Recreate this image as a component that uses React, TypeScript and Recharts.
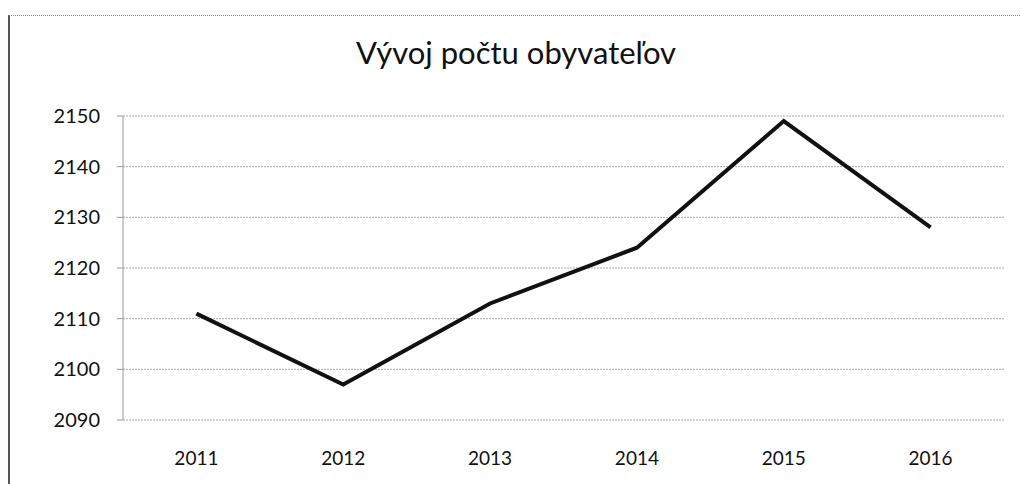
import React from 'react';
import { CartesianGrid, Line, LineChart, XAxis, YAxis } from 'recharts';

const years = ['2011', '2012', '2013', '2014', '2015', '2016'];
const population = [2111, 2097, 2113, 2124, 2149, 2128];
const yTicks = [2090, 2100, 2110, 2120, 2130, 2140, 2150];
// category boundaries, where Excel puts the x tick marks
const boundaryTicks = [0, 1, 2, 3, 4, 5, 6];

const chartData = years.map((year, index) => ({ year, value: population[index] }));

const fontFamily = 'Lato, "Open Sans", sans-serif';

export default function App() {
  return (
    <div
      style={{
        position: 'absolute',
        left: 0,
        top: 0,
        width: 1021,
        height: 484,
        background: '#ffffff',
        overflow: 'hidden',
        fontFamily,
      }}
    >
      <div
        style={{
          position: 'absolute',
          left: 8,
          top: 15,
          width: 1040,
          height: 500,
          borderTop: '1px dotted #888',
          borderLeft: '2px solid #555',
        }}
      />
      <div
        style={{
          position: 'absolute',
          left: 0,
          top: 33,
          width: 1032,
          textAlign: 'center',
          fontSize: 31,
          color: '#111',
        }}
      >
        Vývoj počtu obyvateľov
      </div>
      <div style={{ position: 'absolute', left: 0, top: 0 }}>
        <LineChart
          data={chartData}
          height={484}
          margin={{ left: 63, right: 17, top: 116, bottom: 24 }}
          width={1021}
        >
          <CartesianGrid stroke="#aaa" strokeDasharray="2 1" vertical={false} />
          <XAxis
            axisLine={{ stroke: '#999' }}
            domain={[0, 6]}
            height={0}
            tick={false}
            tickLine={{ stroke: '#999' }}
            tickSize={6}
            ticks={boundaryTicks}
            type="number"
            xAxisId="edges"
          />
          <XAxis
            axisLine={false}
            dataKey="year"
            height={40}
            scale="band"
            tick={{ fill: '#111', fontSize: 19, fontFamily }}
            tickLine={false}
            tickMargin={32}
            tickSize={0}
          />
          <YAxis
            axisLine={{ stroke: '#999' }}
            domain={[2090, 2150]}
            tick={{ fill: '#111', fontSize: 20, fontFamily }}
            tickLine={{ stroke: '#999' }}
            tickMargin={17}
            tickSize={6}
            ticks={yTicks}
            width={60}
          />
          <Line
            dataKey="value"
            dot={false}
            isAnimationActive={false}
            stroke="#111"
            strokeWidth={4}
            type="linear"
          />
        </LineChart>
      </div>
    </div>
  );
}
